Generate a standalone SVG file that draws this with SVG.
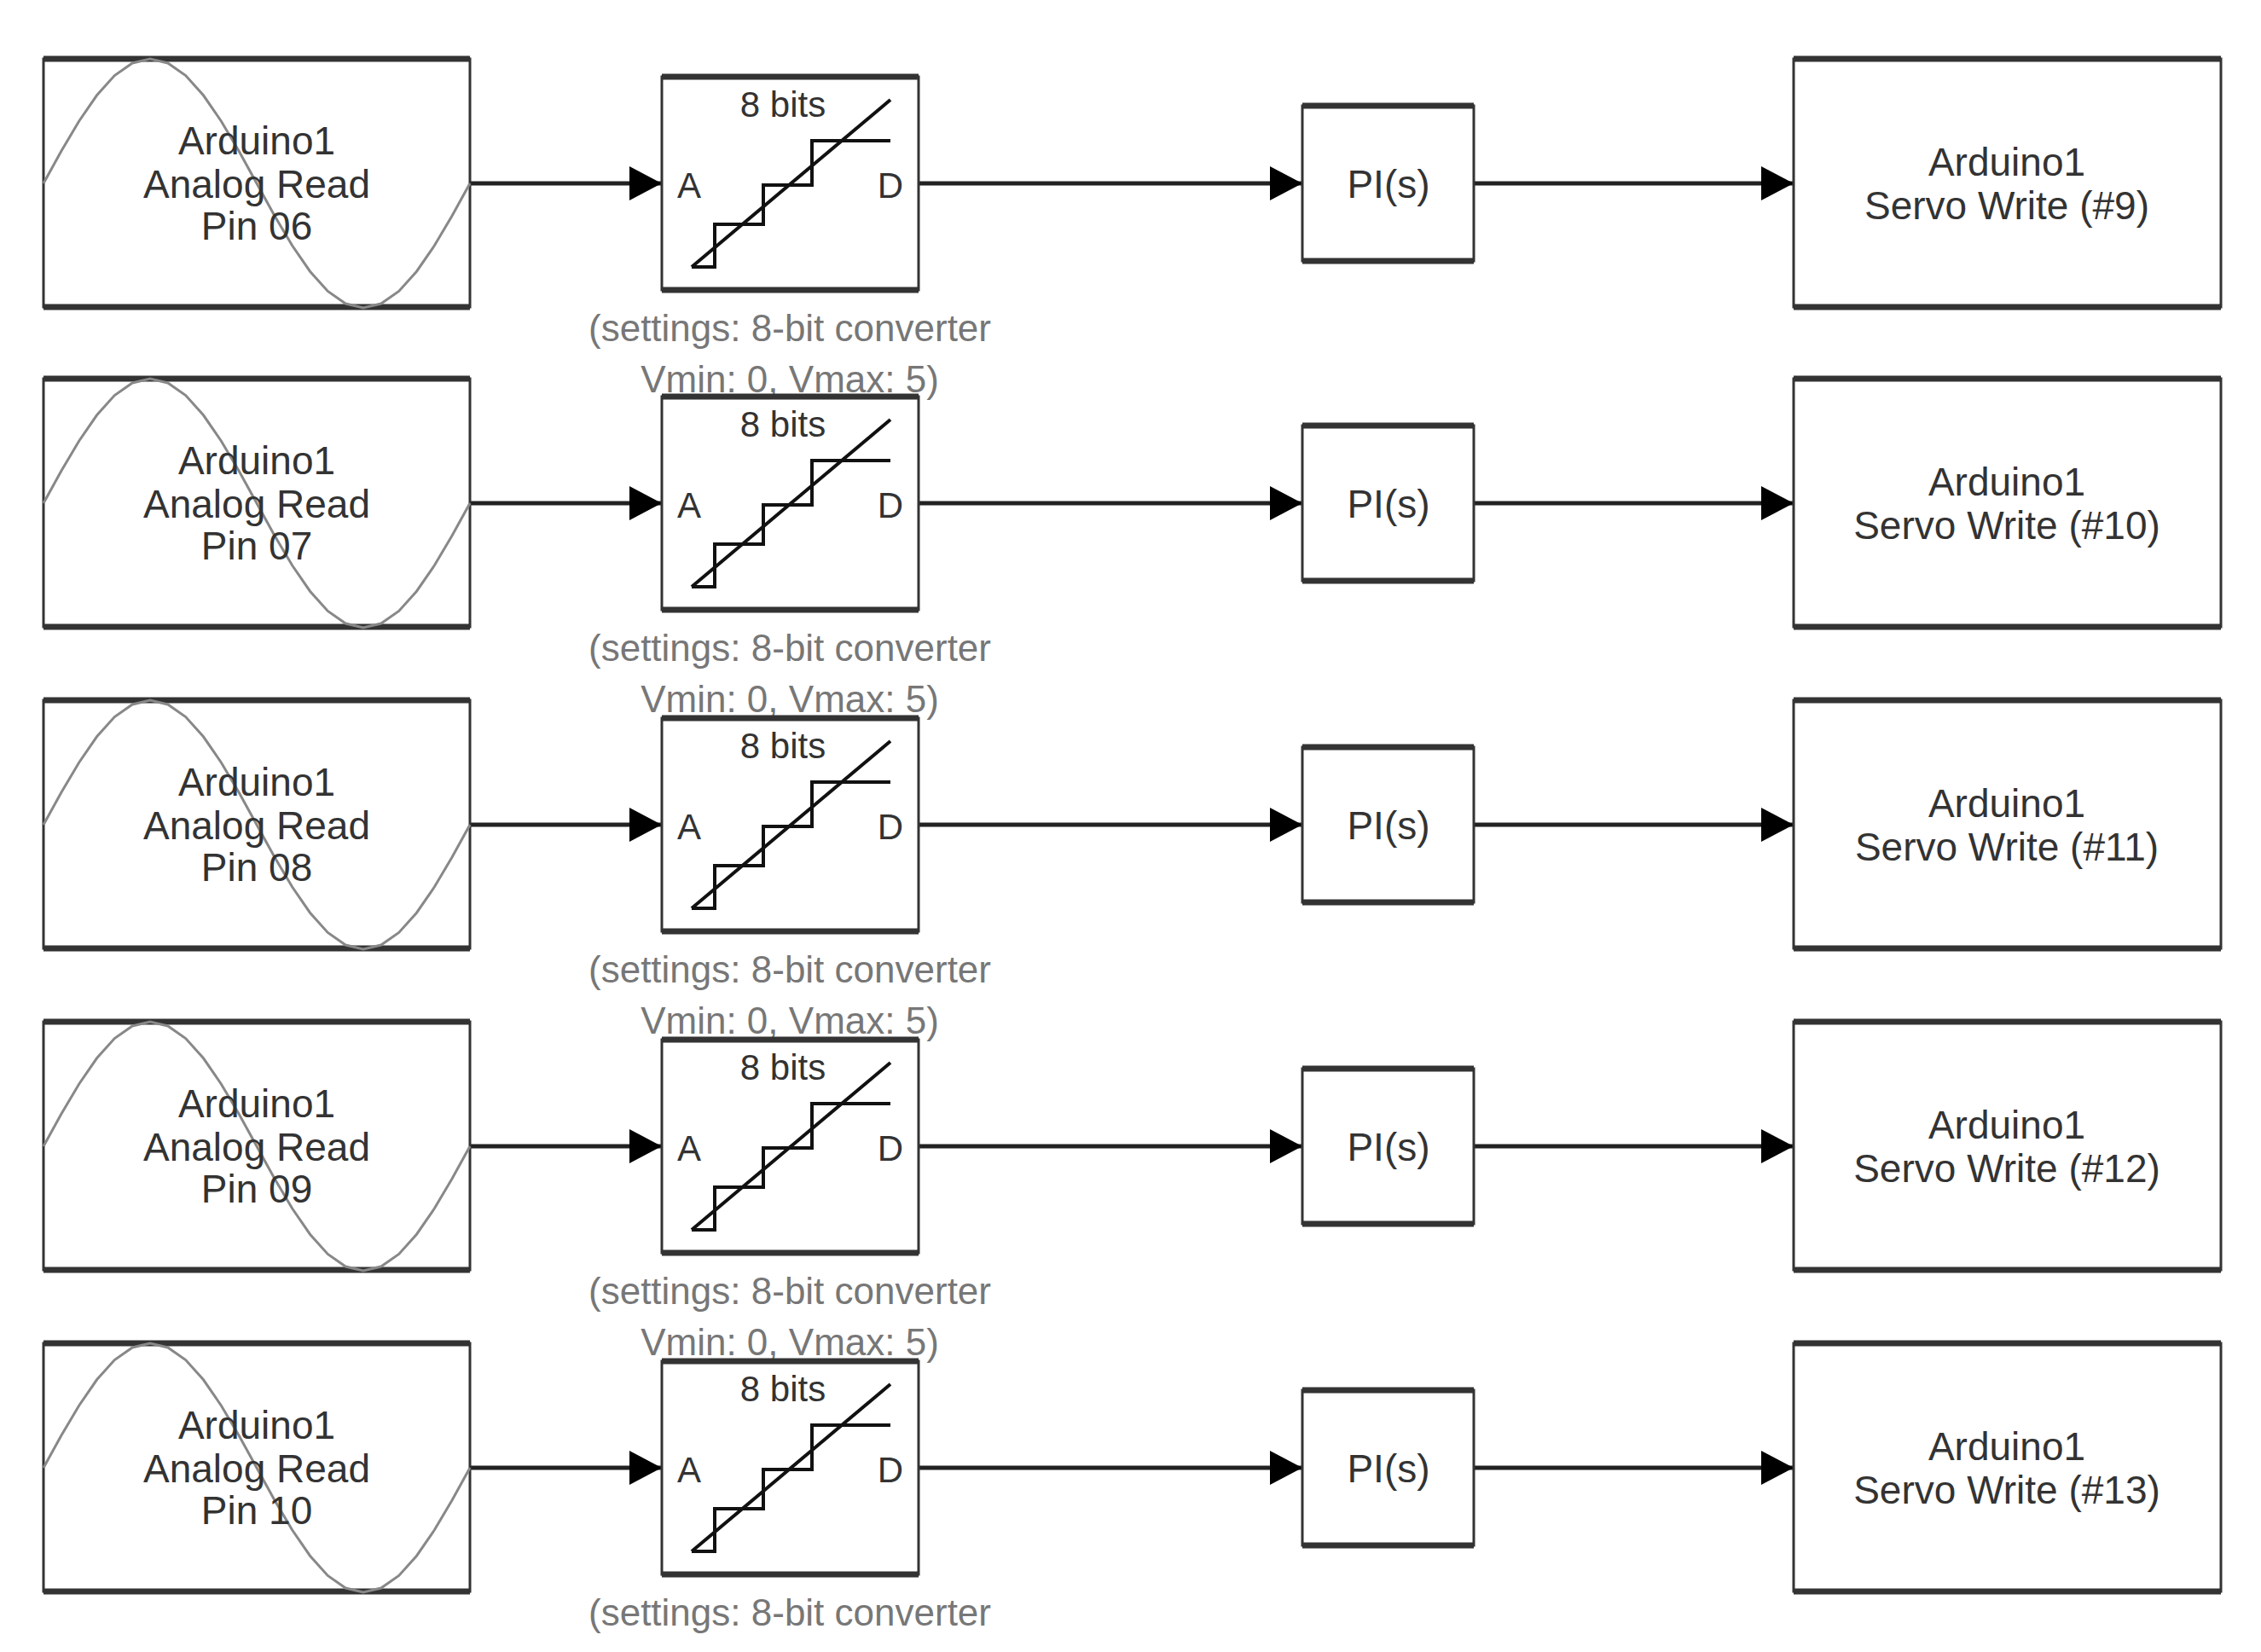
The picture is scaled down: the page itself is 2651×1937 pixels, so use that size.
<svg xmlns="http://www.w3.org/2000/svg" xmlns:xlink="http://www.w3.org/1999/xlink" width="2651" height="1937" viewBox="0 0 2651 1937">
<style>
.box{fill:#fff;stroke:#333;stroke-width:3}
.bar{stroke:#333;stroke-width:7}
.t{font-family:"Liberation Sans",Arial,sans-serif;font-size:46px;fill:#333;text-anchor:middle}
.s{font-family:"Liberation Sans",Arial,sans-serif;font-size:44px;fill:#777;text-anchor:middle}
.w{fill:none;stroke:#888;stroke-width:3}
.ic{fill:none;stroke:#111;stroke-width:4}
.c{stroke:#222;stroke-width:5;fill:none;marker-end:url(#ah)}
</style>
<defs>
<marker id="ah" markerWidth="38" markerHeight="40" refX="38" refY="20" orient="auto" markerUnits="userSpaceOnUse" viewBox="0 0 38 40"><path d="M0,0 L38,20 L0,40 Z" fill="#000"/></marker>
<g id="src">
<rect class="box" x="0" y="-146" width="500" height="291"/>
<line class="bar" x1="0" y1="-146" x2="500" y2="-146"/><line class="bar" x1="0" y1="145" x2="500" y2="145"/>
<polyline class="w" points="0,0 20.8,-37.8 41.7,-73 62.5,-103.2 83.3,-126.4 104.2,-141 125,-146 145.8,-141 166.7,-126.4 187.5,-103.2 208.3,-73 229.2,-37.8 250,0 270.8,37.8 291.7,73 312.5,103.2 333.3,126.4 354.2,141 375,146 395.8,141 416.7,126.4 437.5,103.2 458.3,73 479.2,37.8 500,0"/>
</g>
<g id="adc">
<rect class="box" x="0" y="-125" width="301" height="250"/>
<line class="bar" x1="0" y1="-125" x2="301" y2="-125"/><line class="bar" x1="0" y1="125" x2="301" y2="125"/>
<line class="ic" x1="35" y1="98" x2="268" y2="-98"/>
<path class="ic" d="M35,98 H62 V48 H119 V2 H176 V-50 H268"/>
<text class="t" x="142" y="-78" style="font-size:42px">8 bits</text>
<text class="t" x="32" y="17" style="font-size:42px">A</text>
<text class="t" x="268" y="17" style="font-size:42px">D</text>
</g>
<g id="pi">
<rect class="box" x="0" y="-91" width="201" height="182"/>
<line class="bar" x1="0" y1="-91" x2="201" y2="-91"/><line class="bar" x1="0" y1="91" x2="201" y2="91"/>
<text class="t" x="101" y="17">PI(s)</text>
</g>
<g id="srv">
<rect class="box" x="0" y="-146" width="501" height="291"/>
<line class="bar" x1="0" y1="-146" x2="501" y2="-146"/><line class="bar" x1="0" y1="145" x2="501" y2="145"/>
</g>
</defs>
<g id="settings">
<g transform="translate(926,215)"><text class="s" y="185">(settings: 8-bit converter</text><text class="s" y="245">Vmin: 0, Vmax: 5)</text></g>
<g transform="translate(926,590)"><text class="s" y="185">(settings: 8-bit converter</text><text class="s" y="245">Vmin: 0, Vmax: 5)</text></g>
<g transform="translate(926,967)"><text class="s" y="185">(settings: 8-bit converter</text><text class="s" y="245">Vmin: 0, Vmax: 5)</text></g>
<g transform="translate(926,1344)"><text class="s" y="185">(settings: 8-bit converter</text><text class="s" y="245">Vmin: 0, Vmax: 5)</text></g>
<g transform="translate(926,1721)"><text class="s" y="185">(settings: 8-bit converter</text></g>
</g>
<g id="connectors">
<path class="c" d="M551,215 H776"/><path class="c" d="M1077,215 H1527"/><path class="c" d="M1728,215 H2103"/>
<path class="c" d="M551,590 H776"/><path class="c" d="M1077,590 H1527"/><path class="c" d="M1728,590 H2103"/>
<path class="c" d="M551,967 H776"/><path class="c" d="M1077,967 H1527"/><path class="c" d="M1728,967 H2103"/>
<path class="c" d="M551,1344 H776"/><path class="c" d="M1077,1344 H1527"/><path class="c" d="M1728,1344 H2103"/>
<path class="c" d="M551,1721 H776"/><path class="c" d="M1077,1721 H1527"/><path class="c" d="M1728,1721 H2103"/>
</g>
<g id="src1" transform="translate(51,215)"><use xlink:href="#src"/><text class="t" x="250" y="-34">Arduino1</text><text class="t" x="250" y="17">Analog Read</text><text class="t" x="250" y="66">Pin 06</text></g>
<g id="src2" transform="translate(51,590)"><use xlink:href="#src"/><text class="t" x="250" y="-34">Arduino1</text><text class="t" x="250" y="17">Analog Read</text><text class="t" x="250" y="66">Pin 07</text></g>
<g id="src3" transform="translate(51,967)"><use xlink:href="#src"/><text class="t" x="250" y="-34">Arduino1</text><text class="t" x="250" y="17">Analog Read</text><text class="t" x="250" y="66">Pin 08</text></g>
<g id="src4" transform="translate(51,1344)"><use xlink:href="#src"/><text class="t" x="250" y="-34">Arduino1</text><text class="t" x="250" y="17">Analog Read</text><text class="t" x="250" y="66">Pin 09</text></g>
<g id="src5" transform="translate(51,1721)"><use xlink:href="#src"/><text class="t" x="250" y="-34">Arduino1</text><text class="t" x="250" y="17">Analog Read</text><text class="t" x="250" y="66">Pin 10</text></g>
<g id="adc1" transform="translate(776,215)"><use xlink:href="#adc"/></g>
<g id="adc2" transform="translate(776,590)"><use xlink:href="#adc"/></g>
<g id="adc3" transform="translate(776,967)"><use xlink:href="#adc"/></g>
<g id="adc4" transform="translate(776,1344)"><use xlink:href="#adc"/></g>
<g id="adc5" transform="translate(776,1721)"><use xlink:href="#adc"/></g>
<g id="pi1" transform="translate(1527,215)"><use xlink:href="#pi"/></g>
<g id="pi2" transform="translate(1527,590)"><use xlink:href="#pi"/></g>
<g id="pi3" transform="translate(1527,967)"><use xlink:href="#pi"/></g>
<g id="pi4" transform="translate(1527,1344)"><use xlink:href="#pi"/></g>
<g id="pi5" transform="translate(1527,1721)"><use xlink:href="#pi"/></g>
<g id="srv1" transform="translate(2103,215)"><use xlink:href="#srv"/><text class="t" x="250" y="-9">Arduino1</text><text class="t" x="250" y="42">Servo Write (#9)</text></g>
<g id="srv2" transform="translate(2103,590)"><use xlink:href="#srv"/><text class="t" x="250" y="-9">Arduino1</text><text class="t" x="250" y="42">Servo Write (#10)</text></g>
<g id="srv3" transform="translate(2103,967)"><use xlink:href="#srv"/><text class="t" x="250" y="-9">Arduino1</text><text class="t" x="250" y="42">Servo Write (#11)</text></g>
<g id="srv4" transform="translate(2103,1344)"><use xlink:href="#srv"/><text class="t" x="250" y="-9">Arduino1</text><text class="t" x="250" y="42">Servo Write (#12)</text></g>
<g id="srv5" transform="translate(2103,1721)"><use xlink:href="#srv"/><text class="t" x="250" y="-9">Arduino1</text><text class="t" x="250" y="42">Servo Write (#13)</text></g>
</svg>
